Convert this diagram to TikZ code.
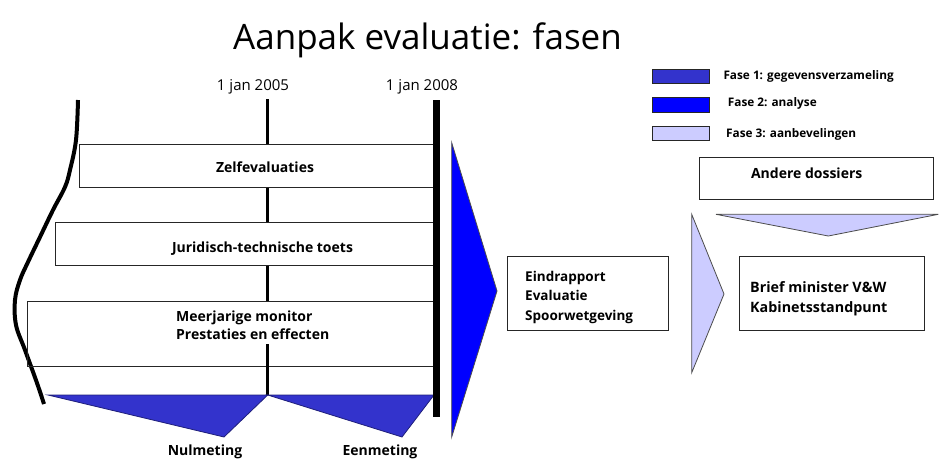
\documentclass[tikz,border=0pt]{standalone}
\usepackage{fontspec}
\setmainfont{Open Sans}
\definecolor{faseone}{RGB}{51,51,204}
\definecolor{fasetwo}{RGB}{0,0,255}
\definecolor{fasethree}{RGB}{204,204,255}
\begin{document}
\begin{tikzpicture}[x=1pt,y=-1pt,
  box/.style={draw=black!85, line width=1pt, fill=white, inner sep=0pt},
  boxtext/.style={font=\bfseries\fontsize{14}{18}\selectfont, inner sep=0pt, anchor=base},
  blocktext/.style={inner sep=0pt, align=left, anchor=north west},
  datetext/.style={font=\fontsize{15}{18}\selectfont, inner sep=0pt, anchor=base},
  legtext/.style={font=\bfseries\fontsize{11.8}{14}\selectfont, inner sep=0pt, anchor=base west},
  swatch/.style={draw=black!85, line width=1pt, inner sep=0pt, anchor=north west, minimum width=57},
  wedge/.style={line width=0.8pt}]
\useasboundingbox (0,0) rectangle (939,459);

% title
\node[font=\fontsize{35}{42}\selectfont, inner sep=0pt, anchor=base] (title) at (427.5,49) {Aanpak evaluatie: fasen};

% timeline labels
\node[datetext] (d2005) at (253,90) {1 jan 2005};
\node[datetext] (d2008) at (422,90) {1 jan 2008};

% wavy left boundary
\draw[line width=4pt] plot[smooth, tension=0.6] coordinates {(78,100) (76,140) (70,170) (65,187) (53,210) (40,237) (28,262) (20,280) (15,300) (16,325) (25,350) (37,383) (44,404)};

% 2005 marker
\coordinate (t5top) at (267.7,99);
\coordinate (t5bot) at (267.7,395);
\draw[line width=3.5pt] (t5top) -- (t5bot);

% activity bars
\node[box, anchor=north west, minimum width=357, minimum height=43.3] (zelf) at (79.3,144) {};
\node[boxtext] (zelftext) at (265,172) {Zelfevaluaties};
\node[box, anchor=north west, minimum width=381, minimum height=43.3] (jur) at (55.3,221.7) {};
\node[boxtext] (jurtext) at (262.5,252.5) {Juridisch-technische toets};
\fill[white] (27.3,300.7) rectangle (436,344);
\node[box, fill=none, anchor=north west, minimum width=409, minimum height=65.3] (mon) at (27.3,300.7) {};
\node[blocktext, font=\bfseries\fontsize{14}{17.5}\selectfont] (montext) at (176,310.7) {Meerjarige monitor\\Prestaties en effecten};
\draw[line width=1pt, black!85] (27.3,366) -- (436,366);
\draw[line width=3.5pt] (267.7,344) -- (t5bot);

% measurement wedges
\coordinate (n1) at (48,395);
\coordinate (n2) at (267.7,395);
\coordinate (n3) at (434,395);
\filldraw[wedge, fill=faseone, draw=faseone!60!black] (n1) -- (n2) -- (224,437) -- cycle;
\filldraw[wedge, fill=faseone, draw=faseone!60!black] (n2) -- (n3) -- (402,437) -- cycle;
\node[boxtext] (nul) at (205,455) {Nulmeting};
\node[boxtext] (een) at (380,455) {Eenmeting};

% 2008 marker
\coordinate (t8top) at (436.7,100);
\coordinate (t8bot) at (436.7,417);
\draw[line width=7pt] (t8top) -- (t8bot);

% analysis arrow
\filldraw[wedge, fill=fasetwo, draw=black!70] (451.7,142.7) -- (497,291) -- (451.7,437) -- cycle;

% final report
\node[box, anchor=north west, minimum width=161, minimum height=74] (eind) at (507.3,256) {};
\node[blocktext, font=\bfseries\fontsize{13.5}{19.5}\selectfont] (eindtext) at (525,270.6) {Eindrapport\\Evaluatie\\Spoorwetgeving};

% recommendation arrow
\filldraw[wedge, fill=fasethree, draw=black!70] (691.7,214.3) -- (724,294) -- (691.7,372.7) -- cycle;

% other dossiers
\node[box, anchor=north west, minimum width=233.4, minimum height=42] (andere) at (699.3,157.3) {};
\node[boxtext] (anderetext) at (806.7,178) {Andere dossiers};
\filldraw[wedge, fill=fasethree, draw=black!70] (716,214.3) -- (938.3,214.3) -- (828.3,236) -- cycle;

% ministerial letter
\node[box, anchor=north west, minimum width=185, minimum height=74] (brief) at (739.3,256) {};
\node[blocktext, font=\bfseries\fontsize{14.3}{20.6}\selectfont] (brieftext) at (750,281) {Brief minister V\&W\\Kabinetsstandpunt};

% legend
\node[swatch, fill=faseone, minimum height=13.7] (sw1) at (651.7,69) {};
\node[swatch, fill=fasetwo, minimum height=14.4] (sw2) at (651.7,97.3) {};
\node[swatch, fill=fasethree, minimum height=14.3] (sw3) at (651.7,125.7) {};
\node[legtext] (lg1) at (723.3,79.3) {Fase 1: gegevensverzameling};
\node[legtext] (lg2) at (727.7,106) {Fase 2: analyse};
\node[legtext] (lg3) at (726,137.7) {Fase 3: aanbevelingen};
\end{tikzpicture}
\end{document}
